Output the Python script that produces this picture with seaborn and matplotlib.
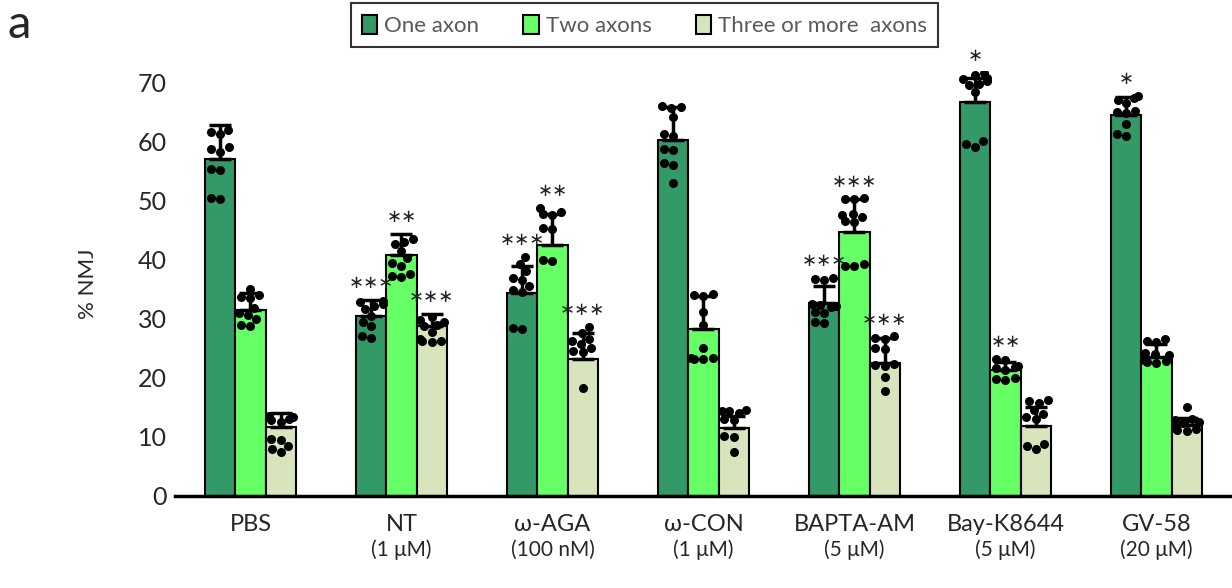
import numpy as np
import pandas as pd
import seaborn as sns
import matplotlib.pyplot as plt
import matplotlib.transforms as mtransforms
from matplotlib.patches import Patch

sns.set_style("white")
plt.rcParams['font.family'] = ['Lato', 'DejaVu Sans']

# categories
groups = ['PBS', 'NT', 'ω-AGA', 'ω-CON', 'BAPTA-AM', 'Bay-K8644', 'GV-58']
doses = ['', '(1 μM)', '(100 nM)', '(1 μM)', '(5 μM)', '(5 μM)', '(20 μM)']
levels = ['One axon', 'Two axons', 'Three or more  axons']
colors = ['#339966', '#66FF66', '#D8E4BC']

# bar means and SD (upper error bars only)
one_mean = [57.0, 30.5, 34.4, 60.3, 32.7, 66.6, 64.4]
one_sd = [5.8, 2.7, 4.6, 5.5, 2.9, 4.2, 3.2]
two_mean = [31.5, 40.7, 42.4, 28.3, 44.6, 21.4, 23.6]
two_sd = [2.8, 3.7, 5.4, 5.6, 5.7, 1.3, 2.2]
three_mean = [11.6, 28.8, 23.1, 11.5, 22.5, 11.9, 12.0]
three_sd = [2.4, 2.0, 4.4, 2.1, 4.3, 3.2, 1.2]

# individual data points
one_dots = [
    [62.0, 61.6, 61.2, 59.0, 58.7, 58.3, 55.4, 55.2, 50.5, 50.3],
    [33.0, 32.8, 32.5, 32.2, 31.6, 30.4, 29.4, 28.7, 27.0, 26.8],
    [40.5, 39.2, 38.0, 36.9, 36.6, 35.5, 34.8, 34.5, 28.4, 28.2],
    [66.0, 65.8, 65.6, 64.1, 61.3, 61.0, 58.7, 58.5, 56.4, 56.0, 53.0],
    [36.9, 36.7, 36.5, 32.5, 32.3, 32.1, 31.9, 31.1, 30.9, 29.5, 29.3],
    [71.6, 71.2, 70.8, 70.5, 70.2, 69.8, 69.5, 68.3, 60.0, 59.6, 59.1],
    [67.7, 67.4, 67.1, 66.5, 65.2, 65.0, 64.8, 62.9, 61.2, 61.0],
]
two_dots = [
    [35.1, 34.0, 33.7, 33.5, 31.8, 31.0, 30.6, 29.9, 29.0, 28.7],
    [43.5, 43.0, 42.6, 41.5, 40.2, 39.5, 39.0, 37.6, 37.2, 37.0],
    [48.8, 48.0, 47.7, 47.5, 45.4, 45.2, 40.0, 39.8],
    [34.2, 34.0, 33.8, 31.2, 29.0, 25.1, 23.4, 23.3, 23.2, 23.1],
    [50.4, 50.3, 50.2, 47.8, 47.5, 47.3, 46.5, 46.3, 39.2, 39.0, 38.9],
    [23.2, 23.0, 22.0, 21.8, 21.6, 21.4, 20.0, 19.8, 19.7],
    [26.5, 26.2, 26.0, 24.2, 24.0, 23.8, 23.0, 22.8, 22.6, 22.5],
]
three_dots = [
    [13.6, 13.3, 13.1, 12.8, 12.5, 9.6, 9.5, 8.4, 7.9, 7.5],
    [30.3, 29.8, 29.5, 29.0, 28.7, 27.7, 26.5, 26.3, 26.2, 26.0],
    [28.6, 27.6, 26.6, 26.2, 25.8, 25.1, 24.5, 24.3, 18.2],
    [14.6, 14.4, 14.3, 14.1, 13.0, 12.8, 10.1, 10.0, 7.4],
    [27.0, 26.8, 26.6, 25.1, 24.8, 22.4, 22.2, 22.0, 20.2, 17.7],
    [16.2, 16.0, 15.8, 14.5, 13.9, 13.3, 13.0, 8.8, 8.5, 8.0],
    [15.1, 13.0, 12.8, 12.6, 12.4, 11.5, 11.3, 11.1, 11.0],
]

# significance marks
one_stars = ['', '***', '***', '', '***', '*', '*']
two_stars = ['', '**', '**', '', '***', '**', '']
three_stars = ['', '***', '***', '', '***', '', '']

means = [one_mean, two_mean, three_mean]
sds = [one_sd, two_sd, three_sd]
dots = [one_dots, two_dots, three_dots]
stars = [one_stars, two_stars, three_stars]

bars = pd.DataFrame({
    'group': groups * 3,
    'axons': np.repeat(levels, len(groups)),
    'mean': one_mean + two_mean + three_mean,
})

fig = plt.figure(figsize=(12.32, 5.88), dpi=100)
ax = fig.add_axes([0.142, 0.1565, 0.858, 0.7235])

sns.barplot(data=bars, x='group', y='mean', hue='axons', order=groups,
            hue_order=levels, palette=colors, width=0.6, errorbar=None,
            saturation=1, edgecolor='black', linewidth=1.5, legend=False, ax=ax)

# bar centres as placed by seaborn
centers = [[p.get_x() + p.get_width() / 2 for p in c] for c in ax.containers]

for cs, m, s in zip(centers, means, sds):
    ax.errorbar(cs, m, yerr=[np.zeros(len(m)), s], fmt='none', ecolor='black',
                elinewidth=2.5, capsize=8, capthick=2.5, zorder=4)

rows = []
for cs, dl in zip(centers, dots):
    for x, vals in zip(cs, dl):
        for v in vals:
            rows.append((x, v))
dots_df = pd.DataFrame(rows, columns=['x', 'value'])
sns.swarmplot(data=dots_df, x='x', y='value', native_scale=True, orient='x',
              color='black', size=6.5, ax=ax, zorder=5)

for cs, m, s, dl, st in zip(centers, means, sds, dots, stars):
    for x, mi, si, d, t in zip(cs, m, s, dl, st):
        if t:
            top = max(mi + si, max(d))
            ax.text(x, top + 1.3, '∗' * len(t), ha='center', va='bottom',
                    fontsize=13, color='#222222', family=['DejaVu Sans'], zorder=6)

ax.set_xlim(-0.5, 6.5)
ax.set_ylim(0, 72)
ax.set_yticks(range(0, 71, 10))
ax.set_xticks(range(len(groups)))
ax.set_xticklabels(groups, fontsize=17)
ax.set_xlabel('')
ax.set_ylabel('% NMJ', fontsize=16)
ax.yaxis.set_label_coords(-0.073, 0.5)

trans = mtransforms.blended_transform_factory(ax.transData, ax.transAxes)
for i, d in enumerate(doses):
    if d:
        ax.text(i, -0.127, d, transform=trans, ha='center', va='center', fontsize=15)

sns.despine(ax=ax, left=True)
ax.spines['bottom'].set_linewidth(2.5)
ax.spines['bottom'].set_color('black')
ax.tick_params(axis='y', direction='in', length=5, width=1.2, labelsize=18, pad=6)
ax.tick_params(axis='x', length=0, pad=13)

handles = [Patch(facecolor=c, edgecolor='black', linewidth=1.5) for c in colors]
leg = fig.legend(handles, levels, loc='center', bbox_to_anchor=(0.523, 0.957),
                 ncol=3, frameon=True, fancybox=False, edgecolor='black',
                 fontsize=16, handlelength=0.7, handleheight=1.0,
                 handletextpad=0.3, columnspacing=2.0, borderpad=0.5,
                 borderaxespad=0.6, labelcolor='#595959')
leg.get_frame().set_linewidth(1.5)

fig.text(0.006, 0.958, 'a', fontsize=34, va='center', ha='left')

fig.savefig('out.png', dpi=100)
